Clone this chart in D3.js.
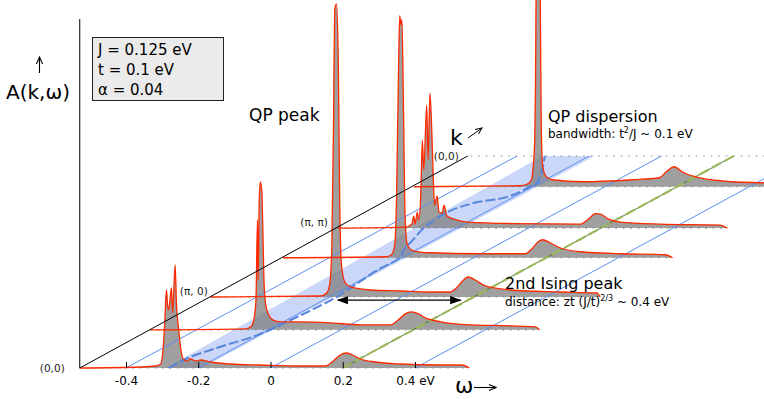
<!DOCTYPE html>
<html>
<head>
<meta charset="utf-8">
<script src="https://cdn.jsdelivr.net/npm/d3@7"></script>
<style>
  body { margin: 0; background: #fff; }
  svg { display: block; font-family: "DejaVu Sans", sans-serif; }
</style>
</head>
<body>
<svg id="chart" width="764" height="399"></svg>
<script>
// omega axis
const omegaTicks = [-0.4, -0.2, 0, 0.2, 0.4];
const tickLabels = ["-0.4", "-0.2", "0", "0.2", "0.4 eV"];

// position of each spectrum along the k path (0 = front, 1 = back)
const kRows = [0, 0.18, 0.335, 0.52, 0.66, 0.855, 1];
const kLabels = ["(0,0)", "", "(π, 0)", "", "(π, π)", "", "(0,0)"];

// spectra A(k,w) as [omega (eV), A (a.u.)], one per k row (last row has none)
const spec0 = [[-0.528,0],[-0.359,0.1],[-0.318,0.2],[-0.304,0.4],[-0.298,1.6],[-0.293,4.3],[-0.288,7.8],[-0.285,6.3],
  [-0.282,5.8],[-0.274,8.0],[-0.271,5.5],[-0.264,10.3],[-0.260,6.1],[-0.257,4.8],[-0.254,3.8],[-0.249,2.1],[-0.243,1.0],
  [-0.232,0.7],[-0.221,0.9],[-0.207,0.7],[-0.193,0.8],[-0.166,0.6],[-0.110,0.4],[-0.028,0.3],[0.083,0.2],[0.152,0.2],
  [0.174,0.7],[0.193,1.3],[0.210,1.5],[0.227,1.3],[0.249,0.9],[0.290,0.6],[0.359,0.4],[0.470,0.3],[0.530,0.3],[0.55,0]];
const spec1 = [[-0.528,0],[-0.263,0.1],[-0.249,0.3],[-0.241,1.0],[-0.235,3.0],[-0.231,11],[-0.229,5.0],[-0.226,13],
  [-0.223,14.8],[-0.219,14.0],[-0.216,10],[-0.213,5.0],[-0.208,2.5],[-0.200,1.5],[-0.189,1.0],[-0.167,0.8],[-0.112,0.8],
  [-0.029,0.7],[0.054,0.5],[0.137,0.5],[0.159,1.0],[0.178,1.6],[0.195,1.8],[0.215,1.6],[0.234,1.2],[0.276,0.8],
  [0.358,0.5],[0.469,0.4],[0.538,0.3],[0.55,0]];
const spec2 = [[-0.528,0],[-0.224,0.1],[-0.207,0.4],[-0.199,1.2],[-0.193,4.7],[-0.188,17.7],[-0.185,28.7],[-0.180,29.3],
  [-0.175,23.7],[-0.171,9.7],[-0.166,3.2],[-0.157,1.5],[-0.141,1.0],[-0.086,0.7],[-0.003,0.6],[0.080,0.5],[0.135,0.5],
  [0.152,0.9],[0.169,1.6],[0.185,2.0],[0.204,1.7],[0.232,1.1],[0.301,0.7],[0.439,0.5],[0.54,0.4],[0.55,0]];
const spec3 = [[-0.528,0],[-0.244,0.1],[-0.228,0.3],[-0.219,1.3],[-0.214,5.8],[-0.208,19.8],[-0.205,24.2],[-0.202,23.3],
  [-0.199,23.8],[-0.195,15.8],[-0.190,3.8],[-0.184,1.3],[-0.168,0.7],[-0.121,0.5],[0.017,0.4],[0.142,0.4],[0.161,0.9],
  [0.178,1.6],[0.191,1.8],[0.211,1.5],[0.238,1.0],[0.294,0.6],[0.405,0.4],[0.53,0.3],[0.55,0]];
const spec4 = [[-0.528,0],[-0.340,0.1],[-0.323,0.4],[-0.318,1.2],[-0.314,0.4],[-0.308,1.6],[-0.304,0.8],[-0.298,3.8],
  [-0.294,8.8],[-0.290,5.8],[-0.282,12.3],[-0.278,6.8],[-0.273,13.5],[-0.268,9.8],[-0.264,5.3],[-0.260,2.3],[-0.253,3.2],
  [-0.248,1.6],[-0.239,1.5],[-0.234,2.3],[-0.226,1.2],[-0.215,1.0],[-0.197,0.8],[-0.169,0.6],[-0.041,0.45],[0.144,0.4],
  [0.166,0.9],[0.185,1.45],[0.199,1.4],[0.221,0.9],[0.254,0.6],[0.365,0.4],[0.53,0.3],[0.55,0]];
const spec5 = [[-0.528,0],[-0.235,0.1],[-0.213,0.3],[-0.203,0.7],[-0.199,1.7],[-0.194,4.7],[-0.192,9.7],[-0.189,24.7],
  [-0.183,26.7],[-0.179,20.7],[-0.176,6.4],[-0.172,2.0],[-0.162,1.0],[-0.145,0.7],[-0.062,0.5],[0.076,0.7],[0.151,0.9],
  [0.170,1.5],[0.192,2.0],[0.214,1.5],[0.261,0.9],[0.352,0.5],[0.435,0.4],[0.53,0.3],[0.55,0]];
const spectra = [spec0, spec1, spec2, spec3, spec4, spec5];

// QP dispersion (dashed blue curve) along k, and the shaded QP band
const dispK = [0, 0.046, 0.10, 0.156, 0.218, 0.336, 0.462, 0.519, 0.566, 0.594, 0.66, 0.736, 0.778, 0.807, 0.849, 0.877, 1.0];
const dispW = [-0.282, -0.28, -0.247, -0.204, -0.19, -0.18, -0.204, -0.205, -0.24, -0.254, -0.29, -0.306, -0.28, -0.217, -0.207, -0.21, -0.323];
const bandK = [0, 1];
const bandLo = [-0.29, -0.33];
const bandHi = [-0.19, -0.185];

// constant-omega guide lines, 2nd Ising peak line, distance arrow
const gridW = [-0.4, -0.2, 0, 0.4];
const isingW = 0.2;
const arrowW = [-0.16, 0.18];
const arrowK = 0.32;

const wMin = -0.528, wMax = 0.55;

const svg = d3.select("#chart");

const x = d3.scaleLinear().domain([-0.4, 0.4]).range([126, 415]);
const kx = d3.scaleLinear().domain([0, 1]).range([0, 391]);
const ky = d3.scaleLinear().domain([0, 1]).range([368, 156]);
const a = d3.scaleLinear().domain([0, 10]).range([0, 100]);
const P = (w, k, A = 0) => [x(w) + kx(k), ky(k) - a(A)];

const defs = svg.append("defs");
defs.append("marker").attr("id", "head").attr("viewBox", "0 0 10 10")
  .attr("refX", 9).attr("refY", 5).attr("markerWidth", 9).attr("markerHeight", 9)
  .attr("orient", "auto-start-reverse")
  .append("path").attr("d", "M0,1.5L10,5L0,8.5z").attr("fill", "#000");
defs.append("marker").attr("id", "open").attr("viewBox", "0 0 10 10")
  .attr("refX", 9).attr("refY", 5).attr("markerWidth", 8).attr("markerHeight", 8)
  .attr("orient", "auto")
  .append("path").attr("d", "M1,1.5L9,5L1,8.5").attr("fill", "none").attr("stroke", "#000").attr("stroke-width", 1.2);

// QP band
const bandPts = [P(bandLo[0], bandK[0]), P(bandHi[0], bandK[0]), P(bandHi[1], bandK[1]), P(bandLo[1], bandK[1])];
svg.append("path")
  .attr("d", "M" + bandPts.join("L") + "Z")
  .attr("fill", "#b9c9f5").attr("opacity", 0.75);

// gray fills, back to front
const area = d3.area().x(d => d[0]).y0(d => d[2]).y1(d => d[1]).curve(d3.curveMonotoneX);
const line = d3.line().x(d => d[0]).y(d => d[1]).curve(d3.curveMonotoneX);
const rows = spectra.map((s, i) => s.map(([w, A]) => {
  const p = P(w, kRows[i], A);
  return [p[0], p[1], ky(kRows[i])];
}));

for (let i = rows.length - 1; i >= 0; i--) {
  svg.append("path").attr("d", area(rows[i]))
    .attr("fill", "#7a7a7a").attr("fill-opacity", 0.72);
}

// dotted baselines
kRows.forEach((k, i) => {
  const p0 = P(wMin, k), p1 = P(i === kRows.length - 1 ? 1.2 : wMax, k);
  svg.append("line")
    .attr("x1", p0[0]).attr("y1", p0[1]).attr("x2", p1[0]).attr("y2", p1[1])
    .attr("stroke", "#888").attr("stroke-width", 1.2).attr("stroke-dasharray", "1.5,6");
});

// constant omega guide lines
gridW.forEach(w => {
  const p0 = P(w, 0), p1 = P(w, 1);
  svg.append("line")
    .attr("x1", p0[0]).attr("y1", p0[1]).attr("x2", p1[0]).attr("y2", p1[1])
    .attr("stroke", "#5b8ff0").attr("stroke-width", 1);
});

// 2nd Ising peak line
{
  const p0 = P(isingW, 0), p1 = P(isingW, 1);
  svg.append("line")
    .attr("x1", p0[0]).attr("y1", p0[1]).attr("x2", p1[0]).attr("y2", p1[1])
    .attr("stroke", "#4f7a2a").attr("stroke-width", 1);
  svg.append("line")
    .attr("x1", p0[0]).attr("y1", p0[1]).attr("x2", p1[0]).attr("y2", p1[1])
    .attr("stroke", "#9ab85a").attr("stroke-width", 2.2).attr("stroke-dasharray", "10,4");
}

// QP dispersion
svg.append("path")
  .attr("d", d3.line().curve(d3.curveCatmullRom)(dispK.map((k, i) => P(dispW[i], k))))
  .attr("fill", "none").attr("stroke", "#5585dc").attr("stroke-width", 2)
  .attr("stroke-dasharray", "10,3");

// red spectra lines, back to front
for (let i = rows.length - 1; i >= 0; i--) {
  svg.append("path").attr("d", line(rows[i]))
    .attr("fill", "none").attr("stroke", "#ff2a00").attr("stroke-width", 1.3)
    .attr("stroke-linejoin", "round");
}

// vertical A axis and k axis
svg.append("line").attr("x1", x(wMin)).attr("y1", 19).attr("x2", x(wMin)).attr("y2", ky(0))
  .attr("stroke", "#000").attr("stroke-width", 1);
{
  const p0 = P(wMin, 0), p1 = P(wMin, 1);
  svg.append("line").attr("x1", p0[0]).attr("y1", p0[1]).attr("x2", p1[0] - 3).attr("y2", p1[1])
    .attr("stroke", "#000").attr("stroke-width", 1);
}

// omega axis
const axisG = svg.append("g").attr("transform", `translate(0,${ky(0)})`)
  .call(d3.axisBottom(x).tickValues(omegaTicks).tickFormat((d, i) => tickLabels[i])
    .tickSizeInner(-6).tickSizeOuter(0).tickPadding(8));
axisG.select(".domain").remove();
axisG.attr("font-size", 12).attr("font-family", "DejaVu Sans");

// k labels
const labelDx = [-15, 0, -3, 0, -10, 0, -12];
kLabels.forEach((t, i) => {
  if (!t) return;
  const p = P(wMin, kRows[i]);
  svg.append("text").attr("x", p[0] + labelDx[i]).attr("y", p[1] + (i === 0 || i === 6 ? 4 : -2))
    .attr("text-anchor", "end").attr("font-size", 10.5).attr("fill", "#222").text(t);
});

// distance arrow
{
  const p0 = P(arrowW[0], arrowK), p1 = P(arrowW[1], arrowK);
  svg.append("line").attr("x1", p0[0]).attr("y1", p0[1]).attr("x2", p1[0]).attr("y2", p1[1])
    .attr("stroke", "#000").attr("stroke-width", 1.3)
    .attr("marker-start", "url(#head)").attr("marker-end", "url(#head)");
}

// axis titles
svg.append("text").attr("x", 6).attr("y", 99).attr("font-size", 20).text("A(k,ω)");
svg.append("line").attr("x1", 39.5).attr("y1", 73).attr("x2", 39.5).attr("y2", 57)
  .attr("stroke", "#000").attr("stroke-width", 1.1).attr("marker-end", "url(#open)");
svg.append("text").attr("x", 455).attr("y", 393).attr("font-size", 22).text("ω");
svg.append("line").attr("x1", 474).attr("y1", 387.5).attr("x2", 496).attr("y2", 387.5)
  .attr("stroke", "#000").attr("stroke-width", 1.1).attr("marker-end", "url(#open)");
svg.append("text").attr("x", 450).attr("y", 145).attr("font-size", 22).text("k");
svg.append("line").attr("x1", 468).attr("y1", 138).attr("x2", 482).attr("y2", 128)
  .attr("stroke", "#000").attr("stroke-width", 1).attr("marker-end", "url(#open)");

// parameter box
svg.append("rect").attr("x", 92.5).attr("y", 37.5).attr("width", 131).attr("height", 63)
  .attr("fill", "#ebebeb").attr("stroke", "#222").attr("stroke-width", 1);
["J = 0.125 eV", "t = 0.1 eV", "α = 0.04"].forEach((t, i) => {
  svg.append("text").attr("x", 98).attr("y", 55 + i * 20).attr("font-size", 15).text(t);
});

// annotations
svg.append("text").attr("x", 249).attr("y", 121).attr("font-size", 17).text("QP peak");
svg.append("text").attr("x", 548).attr("y", 122).attr("font-size", 16).text("QP dispersion");
{
  const t = svg.append("text").attr("x", 548).attr("y", 138).attr("font-size", 12);
  t.append("tspan").text("bandwidth: t");
  t.append("tspan").attr("dy", -5).attr("font-size", 8).text("2");
  t.append("tspan").attr("dy", 5).text("/J ~ 0.1 eV");
}
svg.append("text").attr("x", 505).attr("y", 289).attr("font-size", 16).text("2nd Ising peak");
{
  const t = svg.append("text").attr("x", 505).attr("y", 306).attr("font-size", 12);
  t.append("tspan").text("distance: zt (J/t)");
  t.append("tspan").attr("dy", -5).attr("font-size", 8).text("2/3");
  t.append("tspan").attr("dy", 5).text(" ~ 0.4 eV");
}
</script>
</body>
</html>
